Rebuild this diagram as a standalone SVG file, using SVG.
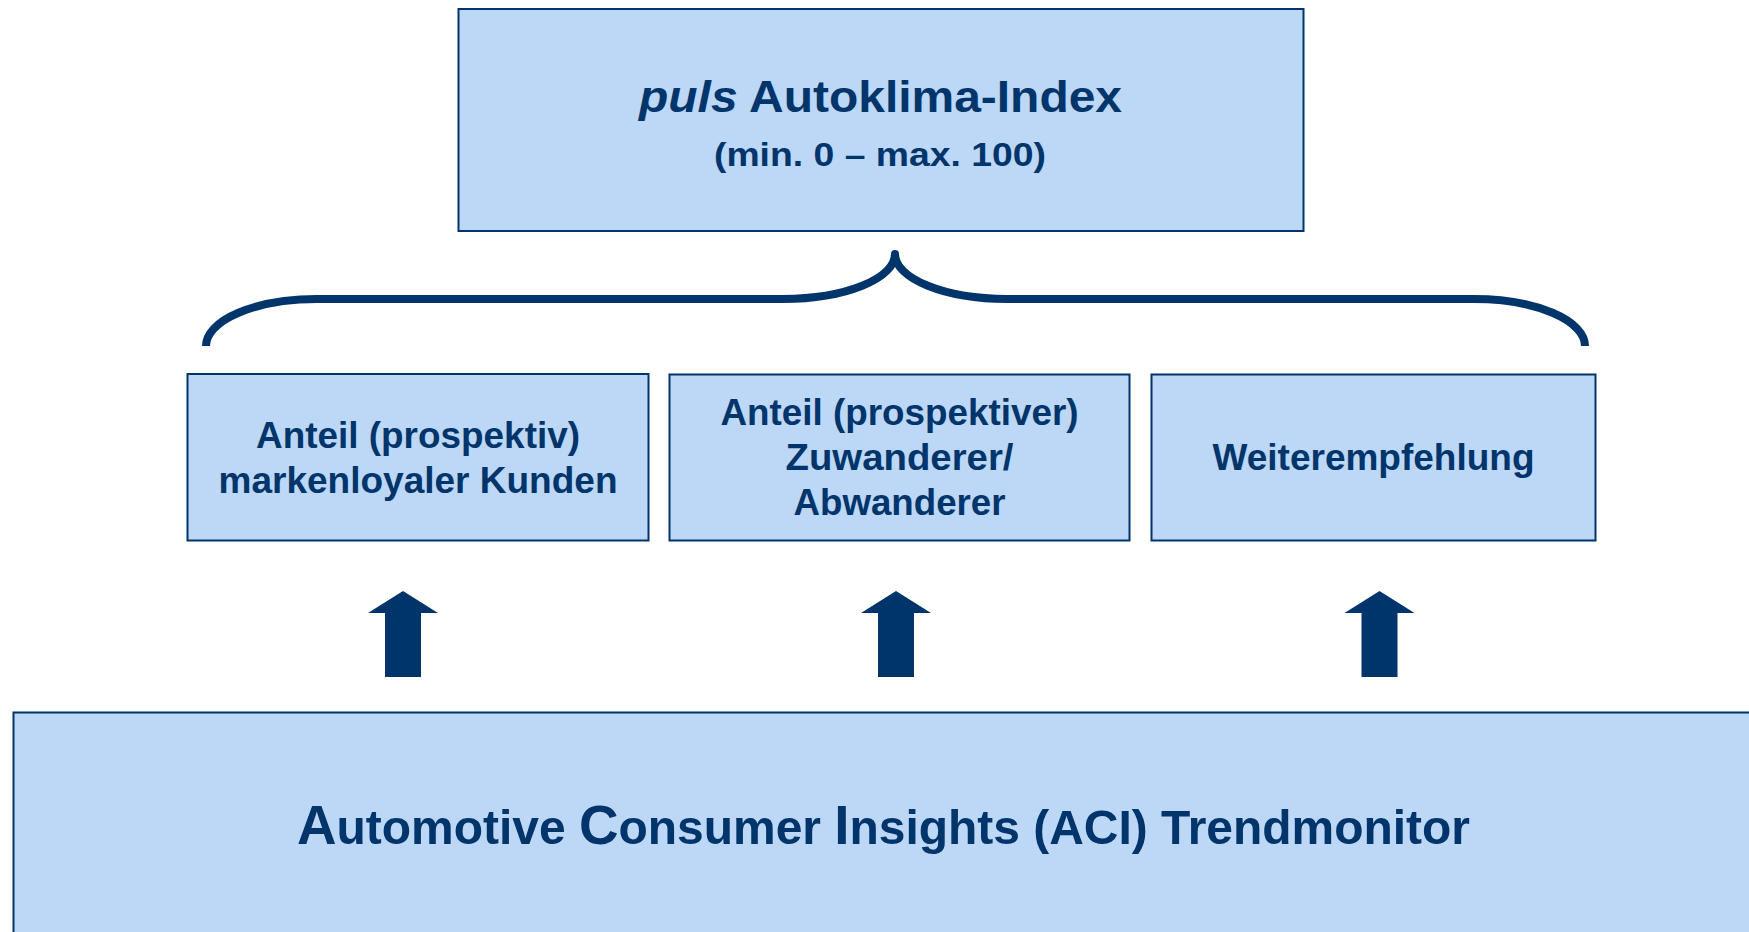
<svg xmlns="http://www.w3.org/2000/svg" width="1749" height="932" viewBox="0 0 1749 932">
  <defs>
    <style>
      .box { fill: #BDD7F6; stroke: #00356B; stroke-width: 2; }
      .lbl { font-family: "Liberation Sans", Arial, sans-serif; font-weight: bold; fill: #00356B; text-anchor: middle; }
      .mid { font-size: 37px; }
      .brace { fill: none; stroke: #00356B; stroke-width: 8; stroke-linejoin: round; stroke-linecap: butt; }
      .arrow { fill: #00356B; }
    </style>
  </defs>
  <rect width="1749" height="932" fill="#FFFFFF"/>

  <!-- index box -->
  <g id="index">
    <rect class="box" x="458.5" y="9" width="845" height="222"/>
    <text class="lbl" x="880.5" y="112" font-size="44" textLength="483" lengthAdjust="spacingAndGlyphs"><tspan font-style="italic">puls</tspan> Autoklima-Index</text>
    <text class="lbl" x="880" y="166" font-size="33" textLength="332" lengthAdjust="spacingAndGlyphs">(min. 0 – max. 100)</text>
  </g>

  <!-- component boxes -->
  <g id="loyal">
    <rect class="box" x="187.5" y="374" width="461" height="166.5"/>
    <text class="lbl mid" x="418" y="448" textLength="324" lengthAdjust="spacingAndGlyphs">Anteil (prospektiv)</text>
    <text class="lbl mid" x="418" y="493" textLength="399" lengthAdjust="spacingAndGlyphs">markenloyaler Kunden</text>
  </g>
  <g id="switchers">
    <rect class="box" x="669.5" y="374.5" width="460" height="166"/>
    <text class="lbl mid" x="899.5" y="425" textLength="358" lengthAdjust="spacingAndGlyphs">Anteil (prospektiver)</text>
    <text class="lbl mid" x="899.5" y="470" textLength="228" lengthAdjust="spacingAndGlyphs">Zuwanderer/</text>
    <text class="lbl mid" x="899.5" y="515" textLength="212" lengthAdjust="spacingAndGlyphs">Abwanderer</text>
  </g>
  <g id="referral">
    <rect class="box" x="1151.5" y="374.5" width="444" height="166"/>
    <text class="lbl mid" x="1373.5" y="470" textLength="322" lengthAdjust="spacingAndGlyphs">Weiterempfehlung</text>
  </g>

  <!-- data source box -->
  <g id="aci">
    <rect class="box" x="13.5" y="712.5" width="1760" height="240"/>
    <text class="lbl" x="297" y="844" font-size="49" style="text-anchor:start" textLength="1173" lengthAdjust="spacingAndGlyphs"><tspan font-size="56">A</tspan>utomotive <tspan font-size="56">C</tspan>onsumer <tspan font-size="56">I</tspan>nsights (ACI) Trendmonitor</text>
  </g>

  <!-- connectors: grouping brace and upward arrows -->
  <g id="connectors">
    <path class="brace" d="M206,346 A111,47 0 0 1 317,299 L783,299 A112,45 0 0 0 895,254 A112,45 0 0 0 1007,299 L1474,299 A111,47 0 0 1 1585,346"/>
    <polygon class="arrow" points="403,591 438,613 421,613 421,677 385,677 385,613 368,613"/>
    <polygon class="arrow" points="896,591 931,613 914,613 914,677 878,677 878,613 861,613"/>
    <polygon class="arrow" points="1379.5,591 1414.5,613 1397.5,613 1397.5,677 1361.5,677 1361.5,613 1344.5,613"/>
  </g>
</svg>
